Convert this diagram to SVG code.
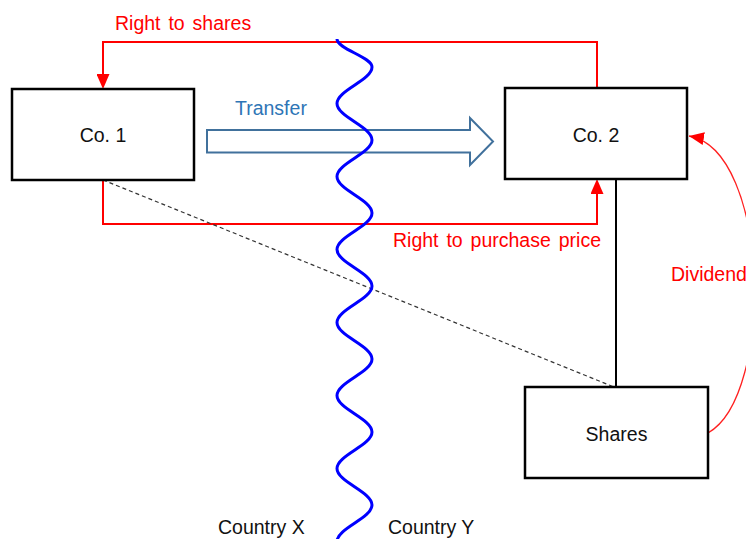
<svg xmlns="http://www.w3.org/2000/svg" width="746" height="539" viewBox="0 0 746 539">
<defs>
<style>
.box{fill:#fff;stroke:#000;stroke-width:2.5}
.lbl{font-family:"Liberation Sans",Arial,sans-serif;font-size:19.5px;fill:#111}
.red{font-family:"Liberation Sans",Arial,sans-serif;font-size:19.5px;fill:#ff0000;word-spacing:2.5px}
.blue{font-family:"Liberation Sans",Arial,sans-serif;font-size:19.5px;fill:#2e75b6}
.rline{fill:none;stroke:#ff0000;stroke-width:2}
.thin{fill:none;stroke:#ff2020;stroke-width:1.3}
</style>
<marker id="ah" markerUnits="userSpaceOnUse" viewBox="0 0 15 13" refX="0" refY="6.5" markerWidth="15" markerHeight="13" orient="auto">
<path d="M0,0 L15,6.5 L0,13 z" fill="#ff0000"/>
</marker>
<marker id="ahTip" markerUnits="userSpaceOnUse" viewBox="0 0 15 13" refX="15" refY="6.5" markerWidth="15" markerHeight="13" orient="auto">
<path d="M0,0 L15,6.5 L0,13 z" fill="#ff0000"/>
</marker>
</defs>
<rect width="746" height="539" fill="#fff"/>

<g id="connectors">
<path id="right-to-shares" class="rline" d="M597,88 V42 H103 V74" marker-end="url(#ah)"/>
<path id="right-to-purchase" class="rline" d="M103,180 V224 H597 V194" marker-end="url(#ah)"/>
<path id="dashed" d="M103,180 L614,387" fill="none" stroke="#333" stroke-width="1.2" stroke-dasharray="4 3"/>
<path id="ownership" d="M616,179 V387" fill="none" stroke="#000" stroke-width="2"/>
<path id="dividend" class="thin" d="M708,433 C775,395 770,150 689,136" marker-end="url(#ahTip)"/>
<path id="transfer-arrow" d="M207,130 H470 V118 L493,141.5 L470,165 V152.5 H207 Z" fill="#fff" stroke="#41719c" stroke-width="2" stroke-linejoin="miter"/>
</g>

<g id="border-wave">
<path d="M337,39 C337,49.2 372,56.8 372,67 C372,80.26 337,90.24 337,103.5 S372,126.74 372,140 S337,163.24 337,176.5 S372,199.74 372,213 S337,236.24 337,249.5 S372,272.74 372,286 S337,309.24 337,322.5 S372,345.74 372,359 S337,382.24 337,395.5 S372,418.74 372,432 S337,455.24 337,468.5 S372,491.74 372,505 S337,528.24 337,541.5" fill="none" stroke="#0000ff" stroke-width="3"/>
</g>

<g id="co1">
<rect class="box" x="12" y="89" width="182" height="91"/>
<text class="lbl" x="103" y="141.5" text-anchor="middle">Co. 1</text>
</g>
<g id="co2">
<rect class="box" x="505" y="88" width="182" height="91"/>
<text class="lbl" x="596" y="141.5" text-anchor="middle">Co. 2</text>
</g>
<g id="shares">
<rect class="box" x="525" y="387" width="183" height="91"/>
<text class="lbl" x="616.5" y="440.5" text-anchor="middle">Shares</text>
</g>

<g id="labels">
<text class="red" x="115" y="30">Right to shares</text>
<text class="blue" x="235" y="115">Transfer</text>
<text class="red" x="601" y="247" text-anchor="end">Right to purchase price</text>
<text class="red" x="671" y="281">Dividend</text>
<text class="lbl" x="218" y="534">Country X</text>
<text class="lbl" x="388" y="534">Country Y</text>
</g>
</svg>
